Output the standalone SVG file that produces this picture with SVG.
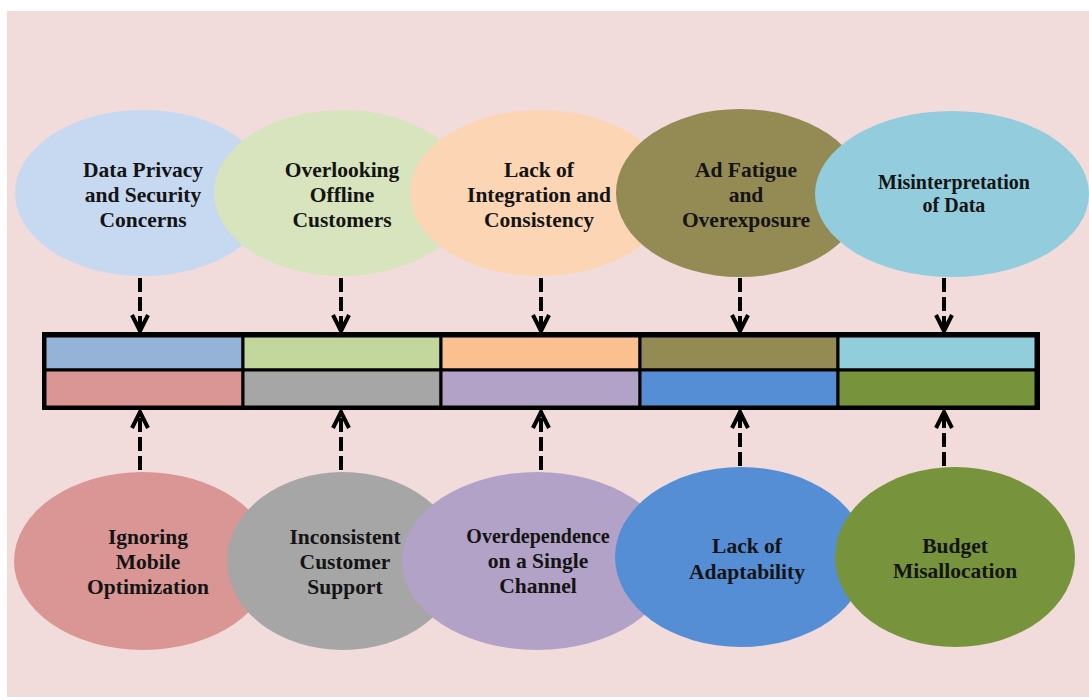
<svg xmlns="http://www.w3.org/2000/svg" width="1089" height="700" viewBox="0 0 1089 700">
<defs>
<style>
.t{font-family:"Liberation Serif","DejaVu Serif",serif;font-weight:bold;font-size:21.5px;fill:#141414;text-anchor:middle}
.s{font-size:20px}
.cell{stroke:#000;stroke-width:3}
.conn{stroke:#000;stroke-width:4;stroke-dasharray:14 5;fill:none}
</style>
<marker id="ah" markerUnits="userSpaceOnUse" markerWidth="24" markerHeight="24" viewBox="-20 -12 24 24" refX="0" refY="0" orient="auto">
<path d="M-17,-8 L-1,0 L-17,8" fill="none" stroke="#000" stroke-width="4" stroke-linejoin="miter"/>
</marker>
</defs>
<rect x="0" y="0" width="1089" height="700" fill="#ffffff"/>
<rect x="7" y="11" width="1082" height="686" fill="#F2DCDB"/>

<g id="node-top-1"><ellipse cx="143" cy="193" rx="128" ry="83" fill="#C6D9F1"/>
<text class="t" x="143" y="177">Data Privacy</text><text class="t" x="143" y="202">and Security</text><text class="t" x="143" y="227">Concerns</text></g>
<g id="node-top-2"><ellipse cx="342" cy="193" rx="128" ry="83" fill="#D7E4BD"/>
<text class="t" x="342" y="177">Overlooking</text><text class="t" x="342" y="202">Offline</text><text class="t" x="342" y="227">Customers</text></g>
<g id="node-top-3"><ellipse cx="540" cy="193" rx="130" ry="83" fill="#FCD5B5"/>
<text class="t" x="539" y="177">Lack of</text><text class="t" x="539" y="202">Integration and</text><text class="t" x="539" y="227">Consistency</text></g>
<g id="node-top-4"><ellipse cx="740" cy="193" rx="124" ry="84" fill="#948A54"/>
<text class="t" x="746" y="177">Ad Fatigue</text><text class="t" x="746" y="202">and</text><text class="t" x="746" y="227">Overexposure</text></g>
<g id="node-top-5"><ellipse cx="952" cy="194" rx="137" ry="83" fill="#93CDDD"/>
<text class="t s" x="954" y="189">Misinterpretation</text><text class="t s" x="954" y="212">of Data</text></g>

<g id="bar">
<rect class="cell" x="45" y="336" width="198" height="34" fill="#95B3D7"/>
<rect class="cell" x="243" y="336" width="198" height="34" fill="#C3D69B"/>
<rect class="cell" x="441" y="336" width="199" height="34" fill="#FAC090"/>
<rect class="cell" x="640" y="336" width="198" height="34" fill="#948A54"/>
<rect class="cell" x="838" y="336" width="198" height="34" fill="#92CDDC"/>
<rect class="cell" x="45" y="370" width="198" height="37" fill="#D99694"/>
<rect class="cell" x="243" y="370" width="198" height="37" fill="#A6A6A6"/>
<rect class="cell" x="441" y="370" width="199" height="37" fill="#B3A2C7"/>
<rect class="cell" x="640" y="370" width="198" height="37" fill="#558ED5"/>
<rect class="cell" x="838" y="370" width="198" height="37" fill="#77933C"/>
<rect x="44" y="334" width="994" height="74" fill="none" stroke="#000" stroke-width="4"/>
</g>

<g id="node-bot-1"><ellipse cx="143" cy="561" rx="129" ry="89" fill="#D99694"/>
<text class="t" x="148" y="544">Ignoring</text><text class="t" x="148" y="569">Mobile</text><text class="t" x="148" y="594">Optimization</text></g>
<g id="node-bot-2"><ellipse cx="343" cy="561" rx="116" ry="89" fill="#A6A6A6"/>
<text class="t" x="345" y="544">Inconsistent</text><text class="t" x="345" y="569">Customer</text><text class="t" x="345" y="594">Support</text></g>
<g id="node-bot-3"><ellipse cx="537" cy="561" rx="135" ry="89" fill="#B3A2C7"/>
<text class="t s" x="538" y="543">Overdependence</text><text class="t" x="538" y="568">on a Single</text><text class="t" x="538" y="593">Channel</text></g>
<g id="node-bot-4"><ellipse cx="741" cy="557" rx="126" ry="90" fill="#558ED5"/>
<text class="t" x="747" y="553">Lack of</text><text class="t" x="747" y="579">Adaptability</text></g>
<g id="node-bot-5"><ellipse cx="955" cy="557" rx="120" ry="90" fill="#77933C"/>
<text class="t" x="955" y="553">Budget</text><text class="t" x="955" y="578">Misallocation</text></g>

<g id="connectors">
<line class="conn" x1="140" y1="278" x2="140" y2="332" marker-end="url(#ah)"/>
<line class="conn" x1="341" y1="278" x2="341" y2="332" marker-end="url(#ah)"/>
<line class="conn" x1="541" y1="278" x2="541" y2="332" marker-end="url(#ah)"/>
<line class="conn" x1="740" y1="278" x2="740" y2="332" marker-end="url(#ah)"/>
<line class="conn" x1="944" y1="278" x2="944" y2="332" marker-end="url(#ah)"/>
<line class="conn" x1="140" y1="470" x2="140" y2="411" marker-end="url(#ah)"/>
<line class="conn" x1="341" y1="470" x2="341" y2="411" marker-end="url(#ah)"/>
<line class="conn" x1="541" y1="470" x2="541" y2="411" marker-end="url(#ah)"/>
<line class="conn" x1="740" y1="466" x2="740" y2="411" marker-end="url(#ah)"/>
<line class="conn" x1="944" y1="466" x2="944" y2="411" marker-end="url(#ah)"/>
</g>
</svg>
